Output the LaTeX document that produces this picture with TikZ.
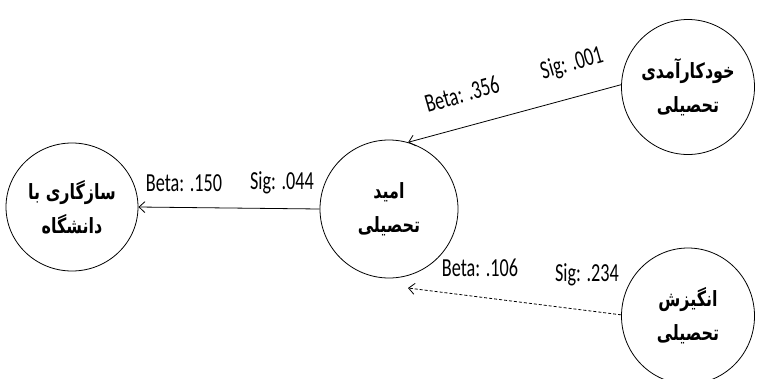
\documentclass[tikz,border=0pt]{standalone}
\usepackage{fontspec}
\usetikzlibrary{shapes.geometric,arrows.meta}
\TeXXeTstate=1
\newfontfamily\labfont[FakeStretch=0.7]{Carlito}
\newfontfamily\fafont[Script=Arabic,FakeStretch=0.76]{DejaVu Sans}

\tikzset{
  factor/.style={ellipse, draw, line width=0.8pt, inner sep=0pt,
    align=center, font=\fafont\bfseries\fontsize{21}{34}\selectfont},
  link/.style={draw, line width=0.8pt, -{Straight Barb[length=6pt,width=11pt]}},
  weak/.style={link, dash pattern=on 3pt off 2pt},
  stat/.style={inner sep=0pt, font=\labfont\fontsize{26}{28}\selectfont},
}

\begin{document}
\begin{tikzpicture}[x=1pt,y=-1pt]
  \useasboundingbox (0,0) rectangle (757,378);

  % constructs of the path model
  \node[factor, minimum width=132pt, minimum height=128pt] (adjust) at (72,207)
    {\beginR سازگاری با\endR\\\beginR دانشگاه\endR};
  \node[factor, minimum width=138pt, minimum height=138pt] (hope) at (389,209)
    {\beginR امید\endR\\\beginR تحصیلی\endR};
  \node[factor, minimum width=133pt, minimum height=135pt] (efficacy) at (688,87)
    {\beginR خودکارآمدی\endR\\\beginR تحصیلی\endR};
  \node[factor, minimum width=133pt, minimum height=136pt] (motivation) at (688,316)
    {\beginR انگیزش\endR\\\beginR تحصیلی\endR};
  \coordinate (motivend) at (408,288);

  % paths
  \draw[link] (efficacy.178) -- (hope.74);
  \draw[link] (hope.west) -- (adjust.east);
  \draw[weak] (motivation.179) -- (motivend);

  % path coefficients
  \node[stat] (b150) at (184,183) {Beta: .150};
  \node[stat] (s044) at (282,183) {Sig: .044};
  \node[stat, rotate=16] (b356) at (462,94) {Beta: .356};
  \node[stat, rotate=16] (s001) at (572,64) {Sig: .001};
  \node[stat] (b106) at (480,268) {Beta: .106};
  \node[stat] (s234) at (587,275) {Sig: .234};
\end{tikzpicture}
\end{document}
